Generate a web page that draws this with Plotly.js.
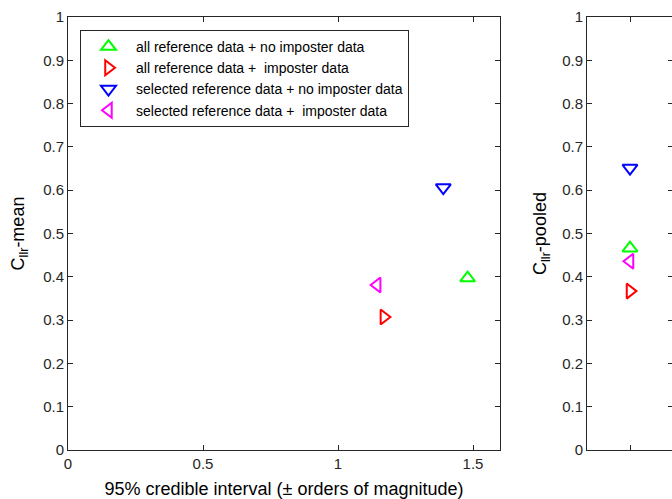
<!DOCTYPE html>
<html>
<head>
<meta charset="utf-8">
<script src="https://cdn.plot.ly/plotly-3.0.1.min.js"></script>
<style>html,body{margin:0;padding:0;overflow:hidden;background:#fff}</style>
</head>
<body>
<div id="chart"></div>
<script>
// Series names
const seriesNames = [
  "all reference data + no imposter data",
  "all reference data +  imposter data",
  "selected reference data + no imposter data",
  "selected reference data +  imposter data"
];
const seriesColors = ["#00FF00", "#FF0000", "#0000FF", "#FF00FF"];
const seriesSymbols = ["triangle-up-open", "triangle-right-open", "triangle-down-open", "triangle-left-open"];

// Left panel: 95% credible interval vs Cllr-mean
const credibleInterval = [1.48, 1.17, 1.39, 1.145];
const cllrMean = [0.397, 0.307, 0.606, 0.381];

// Right panel: Cllr-pooled (single category)
const pooledCategory = [1, 1, 1, 1];
const cllrPooled = [0.466, 0.367, 0.651, 0.436];

const xTickVals = [0, 0.5, 1, 1.5];
const yTickVals = [0, 0.1, 0.2, 0.3, 0.4, 0.5, 0.6, 0.7, 0.8, 0.9, 1];

const traces = [];
for (let i = 0; i < seriesNames.length; i++) {
  traces.push({
    type: "scatter", mode: "markers",
    x: [credibleInterval[i]], y: [cllrMean[i]],
    name: seriesNames[i],
    xaxis: "x", yaxis: "y",
    marker: {symbol: seriesSymbols[i], size: 13, color: seriesColors[i], line: {color: seriesColors[i], width: 2}},
    showlegend: true
  });
}
for (let i = 0; i < seriesNames.length; i++) {
  traces.push({
    type: "scatter", mode: "markers",
    x: [pooledCategory[i]], y: [cllrPooled[i]],
    name: seriesNames[i],
    xaxis: "x2", yaxis: "y2",
    marker: {symbol: seriesSymbols[i], size: 13, color: seriesColors[i], line: {color: seriesColors[i], width: 2}},
    showlegend: false
  });
}

const axisCommon = {
  showgrid: false, zeroline: false, showline: true, linecolor: "#262626", linewidth: 1,
  ticks: "inside", ticklen: 5, tickcolor: "#262626", mirror: "ticks",
  tickfont: {family: "Liberation Sans, Arial, sans-serif", size: 15, color: "#262626"}
};

const W = 674, H = 499;
const layout = {
  width: W, height: H,
  margin: {l: 68, r: 1, t: 17, b: 49},
  paper_bgcolor: "#fff", plot_bgcolor: "#fff",
  font: {family: "Liberation Sans, Arial, sans-serif", color: "#262626"},
  showlegend: true,
  legend: {
    x: 0.0198, y: 0.970, xanchor: "left", yanchor: "top",
    bordercolor: "#262626", borderwidth: 1, bgcolor: "#fff",
    font: {size: 14, color: "#000"}, tracegroupgap: 0, itemwidth: 45
  },
  xaxis: Object.assign({}, axisCommon, {
    domain: [0, 432/605], range: [0, 1.6], tickvals: xTickVals, ticktext: xTickVals.map(String),
    title: {text: "95% credible interval (± orders of magnitude)", font: {size: 18, color: "#000"}, standoff: 14},
    anchor: "y"
  }),
  yaxis: Object.assign({}, axisCommon, {
    domain: [0, 1], range: [0, 1], tickvals: yTickVals,
    title: {text: "C<sub>llr</sub>-mean", font: {size: 18, color: "#000"}, standoff: 13},
    anchor: "x"
  }),
  xaxis2: Object.assign({}, axisCommon, {
    domain: [519/605, 1], range: [0, 2], tickvals: [1], showticklabels: false,
    anchor: "y2"
  }),
  yaxis2: Object.assign({}, axisCommon, {
    domain: [0, 1], range: [0, 1], tickvals: yTickVals,
    title: {text: "C<sub>llr</sub>-pooled", font: {size: 18, color: "#000"}, standoff: 10},
    anchor: "x2"
  })
};

Plotly.newPlot("chart", traces, layout, {staticPlot: true, displayModeBar: false});
</script>
</body>
</html>
